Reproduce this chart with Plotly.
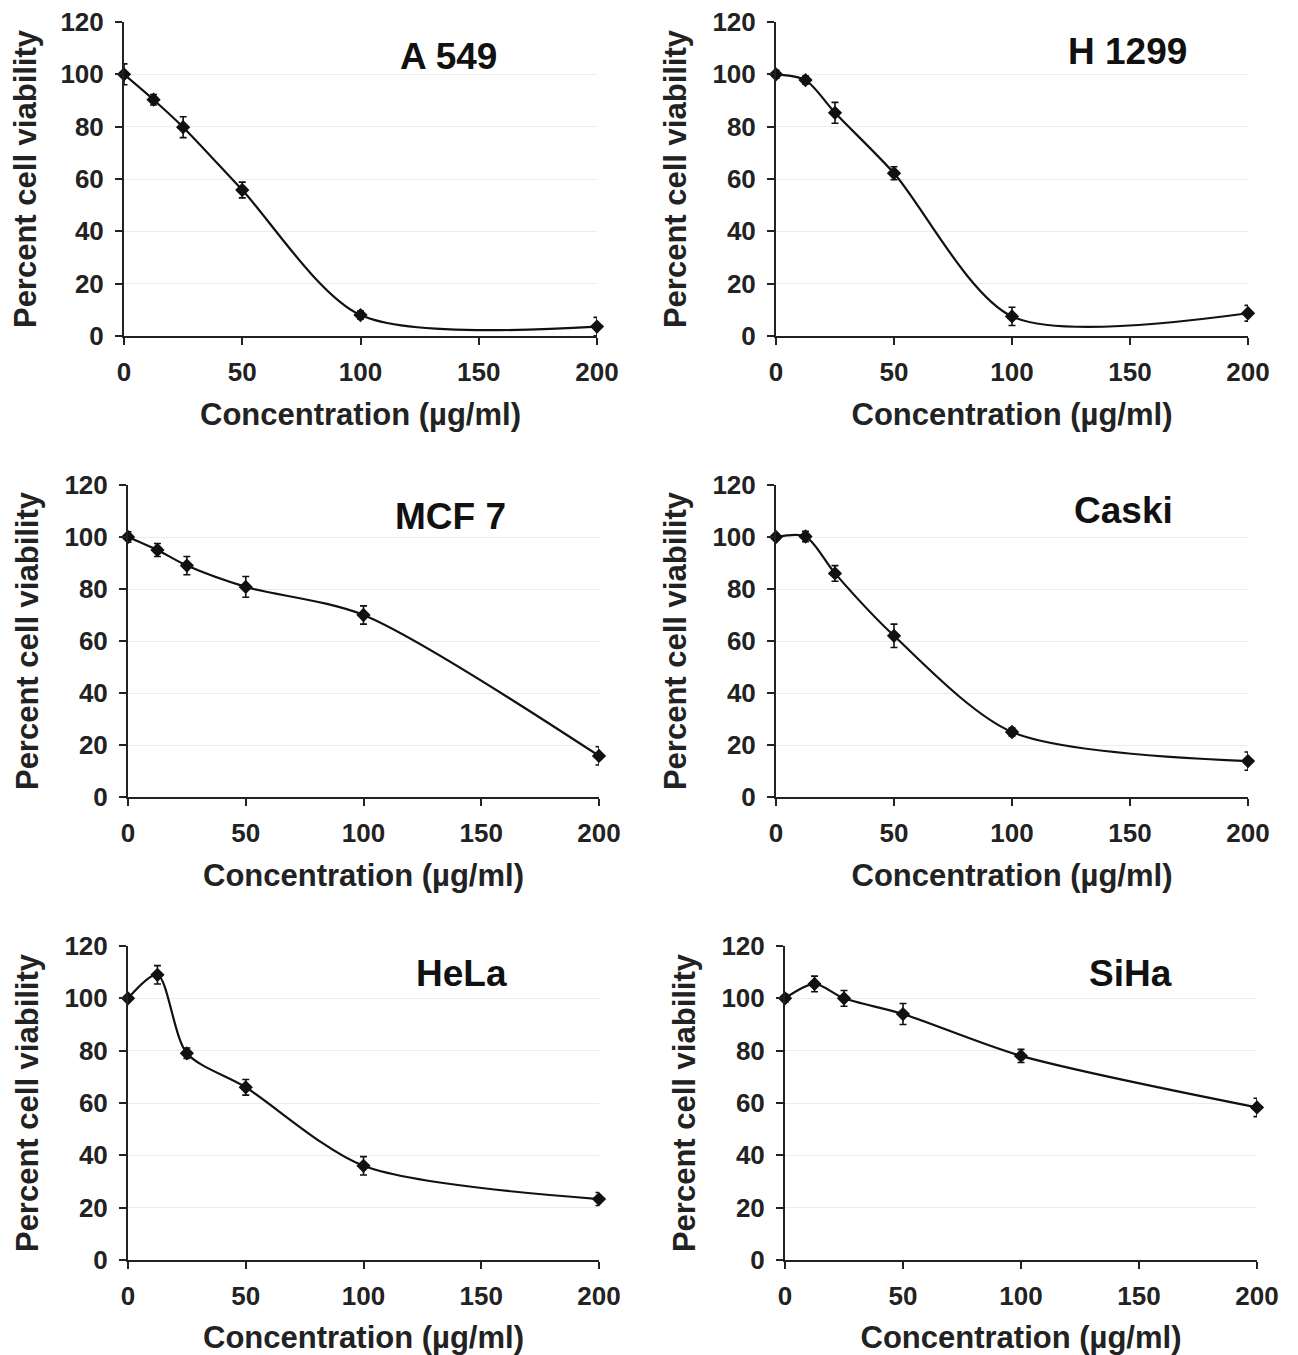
import plotly.graph_objects as go

# ---- data ----
concentration = [0, 12.5, 25, 50, 100, 200]
cell_lines = ["A 549", "H 1299", "MCF 7", "Caski", "HeLa", "SiHa"]

a549 = [100, 90.3, 79.8, 55.8, 8.0, 3.6]
a549_err = [4.0, 2.0, 4.0, 3.0, 1.5, 3.5]
h1299 = [100, 97.8, 85.3, 62.2, 7.5, 8.7]
h1299_err = [1.5, 1.5, 4.0, 2.5, 3.5, 3.0]
mcf7 = [100, 95.0, 89.0, 80.8, 70.0, 15.8]
mcf7_err = [2.0, 2.5, 3.5, 4.0, 3.5, 3.5]
caski = [100, 100.2, 86.0, 62.0, 25.0, 13.8]
caski_err = [1.0, 2.0, 3.0, 4.5, 1.5, 3.5]
hela = [100, 109.0, 79.0, 66.0, 36.0, 23.3]
hela_err = [1.0, 3.5, 2.0, 3.0, 3.5, 2.5]
siha = [100, 105.5, 100.0, 94.0, 78.0, 58.3]
siha_err = [1.5, 3.0, 3.0, 4.0, 2.5, 3.5]

series = [a549, h1299, mcf7, caski, hela, siha]
errors = [a549_err, h1299_err, mcf7_err, caski_err, hela_err, siha_err]

x_ticks = [0, 50, 100, 150, 200]
y_ticks = [0, 20, 40, 60, 80, 100, 120]

# ---- layout geometry (page pixels; the page body adds an 8 px offset) ----
OFF = 8
W, H = 1298 - OFF, 1355 - OFF
panel_px = [  # (x_left, x_right, y_top, y_bottom) in page pixels
    (124, 597, 22, 336),
    (776, 1248, 22, 336),
    (128, 599, 485, 797),
    (776, 1248, 485, 797),
    (128, 599, 946, 1260),
    (785, 1257, 946, 1260),
]
label_pos = [(0.685, 0.89), (0.744, 0.905), (0.684, 0.90),
             (0.737, 0.917), (0.709, 0.914), (0.731, 0.914)]

FONT = "Liberation Sans, Arial, sans-serif"
AXIS_COLOR = "#222222"
TEXT_COLOR = "#222222"

fig = go.Figure()
layout = {}
annotations = []
for i, (name, vals, errs) in enumerate(zip(cell_lines, series, errors)):
    n = "" if i == 0 else str(i + 1)
    xl, xr, yt, yb = panel_px[i]
    fig.add_trace(go.Scatter(
        x=concentration, y=vals,
        xaxis="x" + n, yaxis="y" + n,
        mode="lines+markers",
        line=dict(color="#111111", width=2.2, shape="spline", smoothing=0.8),
        marker=dict(symbol="diamond", size=11, color="#111111"),
        error_y=dict(type="data", array=errs, visible=True,
                     color="#111111", thickness=1.6, width=3.5),
        cliponaxis=False, showlegend=False, name=name,
    ))
    layout["xaxis" + n] = dict(
        domain=[(xl - OFF) / W, (xr - OFF) / W], anchor="y" + n, automargin=False,
        range=[0, 200], tickvals=x_ticks,
        showline=True, linecolor=AXIS_COLOR, linewidth=2,
        ticks="outside", ticklen=7, tickwidth=2, tickcolor=AXIS_COLOR,
        ticklabelstandoff=5, ticklabeloverflow="allow",
        showgrid=False, zeroline=False,
        tickfont=dict(family=FONT, size=26, color=TEXT_COLOR, weight="bold"),
        title=dict(text="Concentration (µg/ml)", standoff=17,
                   font=dict(family=FONT, size=31, color=TEXT_COLOR, weight="bold")),
    )
    layout["yaxis" + n] = dict(
        domain=[1 - (yb - OFF) / H, 1 - (yt - OFF) / H], anchor="x" + n,
        automargin=False,
        range=[0, 120], tickvals=y_ticks,
        showline=True, linecolor=AXIS_COLOR, linewidth=2,
        ticks="outside", ticklen=7, tickwidth=2, tickcolor=AXIS_COLOR,
        ticklabelstandoff=6, ticklabeloverflow="allow",
        showgrid=True, gridcolor="#ececec", gridwidth=1, zeroline=False,
        tickfont=dict(family=FONT, size=26, color=TEXT_COLOR, weight="bold"),
        title=dict(text="Percent cell viability", standoff=17,
                   font=dict(family=FONT, size=31, color=TEXT_COLOR, weight="bold")),
    )
    lx, ly = label_pos[i]
    annotations.append(dict(
        text=name, x=lx, y=ly,
        xref="x" + n + " domain", yref="y" + n + " domain",
        showarrow=False, xanchor="center", yanchor="middle",
        font=dict(family=FONT, size=37, color="#111111", weight="bold"),
    ))

fig.update_layout(
    width=W, height=H,
    margin=dict(l=0, r=0, t=0, b=0),
    paper_bgcolor="white", plot_bgcolor="white",
    annotations=annotations,
    **layout,
)

fig.write_html("out.html")
